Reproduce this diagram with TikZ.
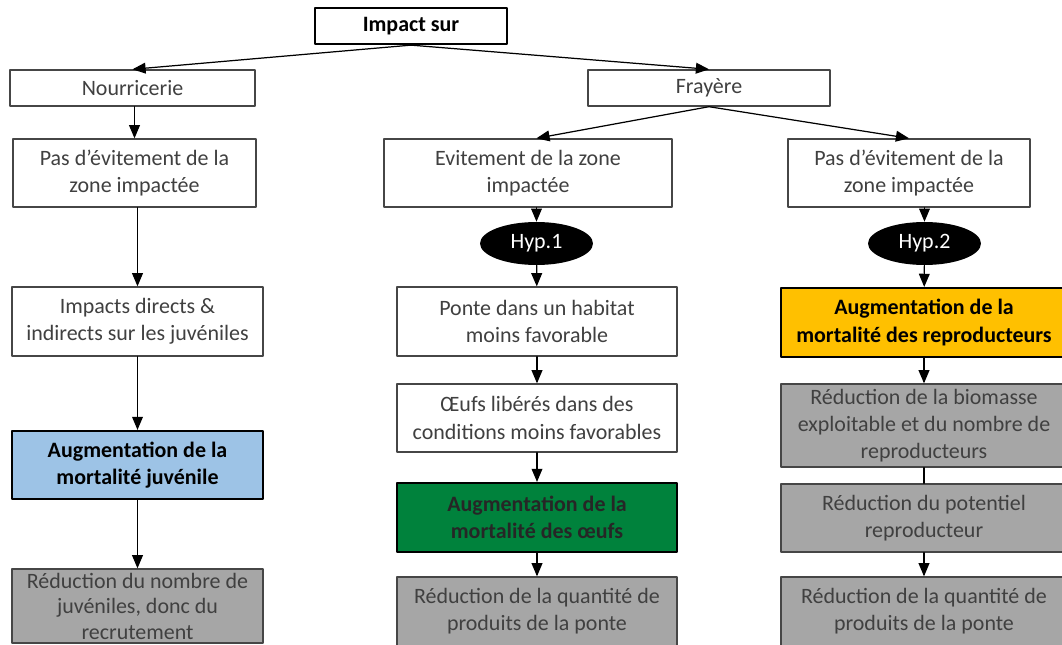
\documentclass[tikz,border=0pt]{standalone}
\usepackage{fontspec}
\setmainfont{Carlito}
\usepackage{tikz}
\usetikzlibrary{arrows}
\usetikzlibrary{shapes.geometric}
\definecolor{boxgrey}{RGB}{166,166,166}
\definecolor{linegrey}{RGB}{70,70,70}
\definecolor{txtgrey}{RGB}{64,64,64}
\definecolor{juvblue}{RGB}{157,195,230}
\definecolor{eggreen}{RGB}{0,130,60}
\definecolor{repgold}{RGB}{255,192,0}

\begin{document}
\begin{tikzpicture}[line cap=round,line join=round,>=triangle 45,x=0.02cm,y=-0.02cm,
    box/.style={draw=linegrey,line width=0.8pt,fill=white,text=txtgrey,align=center,inner sep=1pt,
      font=\fontsize{12.5}{15.5}\selectfont},
    keybox/.style={box,draw=black,line width=1.3pt,text=black,font=\fontsize{12.5}{15.5}\selectfont\bfseries},
    greybox/.style={box,fill=boxgrey,text=txtgrey},
    hypo/.style={ellipse,fill=black,text=white,inner sep=0pt,minimum width=2.26cm,minimum height=0.86cm,
      font=\fontsize{12.5}{15.5}\selectfont},
    link/.style={->,color=black,line width=0.7pt}]
      \useasboundingbox (0,0) rectangle (1062,645);
      \clip (0,0) rectangle (1062,645);
      % top
      \node[keybox,minimum width=3.84cm,minimum height=0.72cm] (impact) at (411,26) {Impact sur};
      \node[box,minimum width=4.9cm,minimum height=0.72cm] (nour) at (132.5,88) {Nourricerie};
      \node[box,minimum width=4.84cm,minimum height=0.72cm] (fray) at (709,88) {Frayère};
      % nourricerie
      \node[box,minimum width=4.86cm,minimum height=1.36cm] (pasL) at (134.5,173) {Pas d’évitement de la\\zone impactée};
      \node[box,minimum width=5.02cm,minimum height=1.38cm] (impd) at (137.5,321.5) {Impacts directs \&\\indirects sur les juvéniles};
      \node[keybox,fill=juvblue,minimum width=5.02cm,minimum height=1.36cm] (augJ) at (137.5,465) {Augmentation de la\\mortalité juvénile};
      \node[greybox,font=\fontsize{12.5}{14.5}\selectfont,minimum width=5.02cm,minimum height=1.48cm] (redJ) at (137.5,606) {Réduction du nombre de\\juvéniles, donc du\\recrutement};
      % frayere, hyp. 1
      \node[box,minimum width=5.76cm,minimum height=1.36cm] (evit) at (528,173) {Evitement de la zone\\impactée};
      \node[hypo] (hyp1) at (536.5,243.5) {Hyp.1};
      \node[box,minimum width=5.6cm,minimum height=1.38cm] (ponte) at (537,321.5) {Ponte dans un habitat\\moins favorable};
      \node[box,minimum width=5.6cm,minimum height=1.36cm] (oeufs) at (537,418) {Œufs libérés dans des\\conditions moins favorables};
      \node[keybox,fill=eggreen,text=black!85,minimum width=5.6cm,minimum height=1.38cm] (augO) at (537,517.5) {Augmentation de la\\mortalité des œufs};
      \node[greybox,minimum width=5.6cm,minimum height=1.38cm] (redO) at (537,611.5) {Réduction de la quantité de\\produits de la ponte};
      % frayere, hyp. 2
      \node[box,minimum width=4.84cm,minimum height=1.36cm] (pasR) at (909,173) {Pas d’évitement de la\\zone impactée};
      \node[hypo] (hyp2) at (924.5,243.5) {Hyp.2};
      \node[keybox,fill=repgold,minimum width=5.72cm,minimum height=1.38cm] (augR) at (924,322.5) {Augmentation de la\\mortalité des reproducteurs};
      \node[greybox,minimum width=5.72cm,minimum height=1.66cm] (redB) at (924,425.5) {Réduction de la biomasse\\exploitable et du nombre de\\reproducteurs};
      \node[greybox,minimum width=5.72cm,minimum height=1.36cm] (redP) at (924,518) {Réduction du potentiel\\reproducteur};
      \node[greybox,minimum width=5.72cm,minimum height=1.38cm] (redQ) at (924,611.5) {Réduction de la quantité de\\produits de la ponte};
      % connectors
      \draw[link] (impact.south) -- (nour.north);
      \draw[link] (impact.south) -- (fray.north);
      \draw[link] (nour.south -| pasL) -- (pasL);
      \draw[link] (pasL.south -| impd) -- (impd);
      \draw[link] (impd) -- (augJ);
      \draw[link] (augJ) -- (redJ);
      \draw[link] (fray.south) -- (evit.north -| hyp1);
      \draw[link] (fray.south) -- (pasR.north);
      \draw[link] (evit.south -| hyp1) -- (hyp1);
      \draw[link] (hyp1) -- (ponte);
      \draw[link] (ponte) -- (oeufs);
      \draw[link] (oeufs) -- (augO);
      \draw[link] (augO) -- (redO);
      \draw[link] (pasR.south -| hyp2) -- (hyp2);
      \draw[link] (hyp2) -- (augR);
      \draw[link] (augR) -- (redB);
      \draw[color=black,line width=0.7pt] (redB) -- (redP);
      \draw[link] (redP) -- (redQ);
\end{tikzpicture}
\end{document}
